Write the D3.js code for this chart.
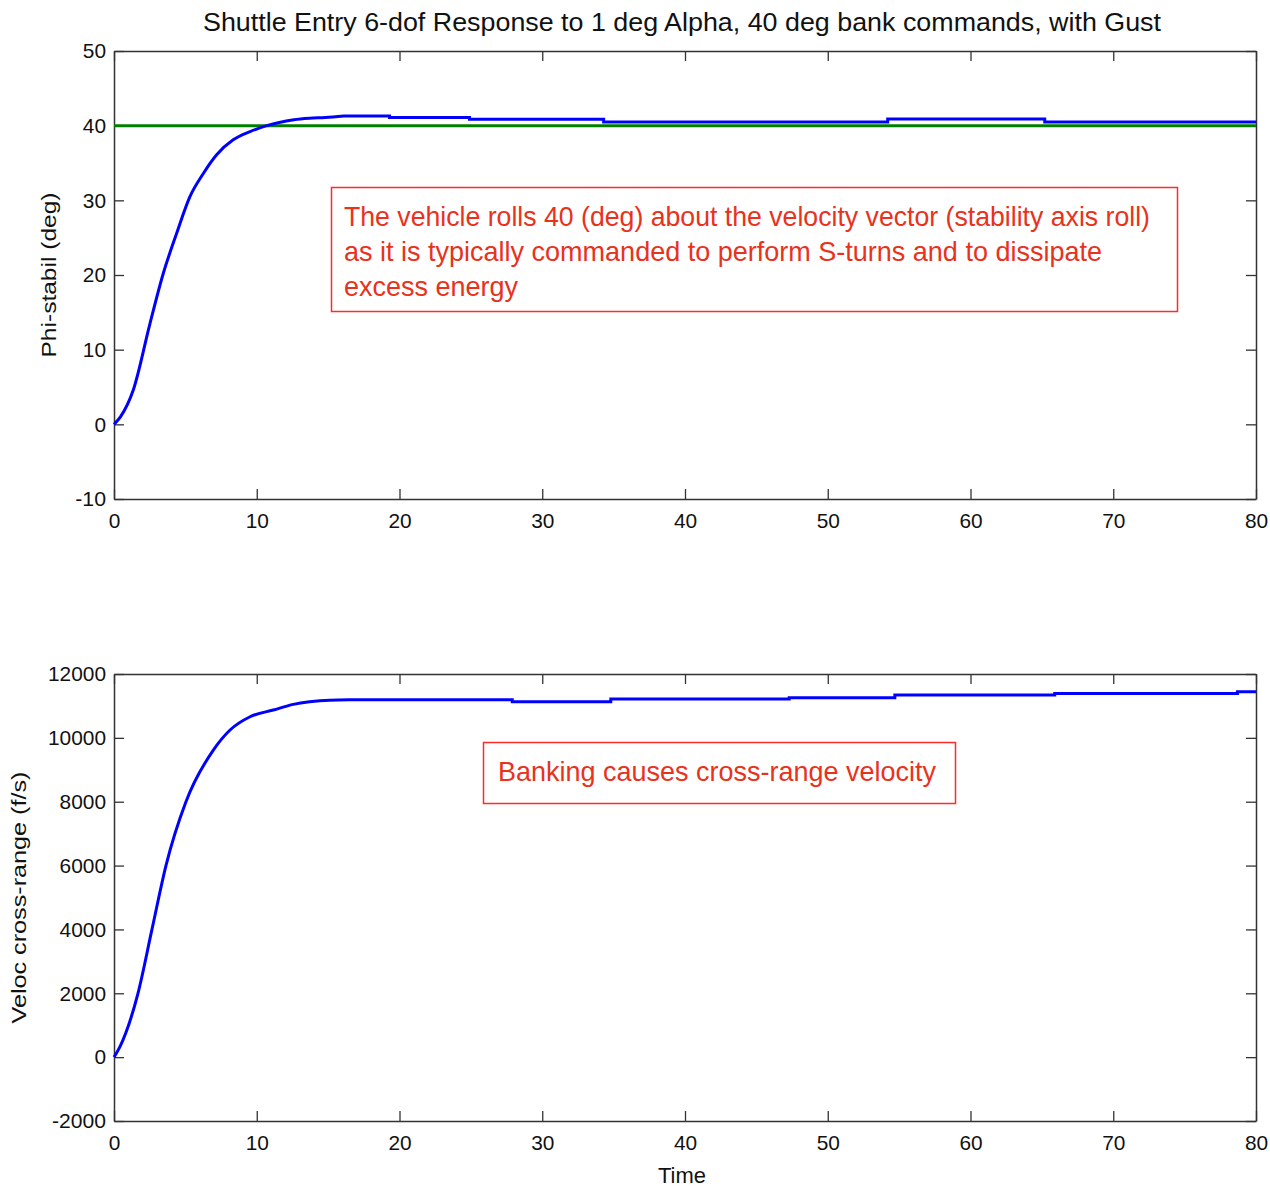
<!DOCTYPE html>
<html><head><meta charset="utf-8">
<script src="https://cdn.jsdelivr.net/npm/d3@7"></script>
<style>
body{margin:0;background:#fff;}
svg text{font-family:"Liberation Sans",Arial,sans-serif;}
</style></head>
<body><svg id="c" width="1270" height="1188"></svg>
<script>
// ---- data ----
const titleText = "Shuttle Entry 6-dof Response to 1 deg Alpha, 40 deg bank commands, with Gust";
const xTicks = [0,10,20,30,40,50,60,70,80];
const phiTicks = [-10,0,10,20,30,40,50];
const velTicks = [-2000,0,2000,4000,6000,8000,10000,12000];

// rising part (smooth) and later stepped part (gust steps)
const phiRiseTime = [0,0.45,1.35,2.52,3.45,4.39,5.32,6.26,7.19,8.35,9.53,10.7,11.5,12.6,13.7,14.8,16.1];
const phiRiseVal  = [0,1.0,4.6,13.5,20.2,25.6,30.5,33.6,36.1,38.1,39.2,40,40.4,40.8,41,41.1,41.3];
const phiStepTime = [16.1,19.3,19.3,24.9,24.9,34.3,34.3,54.2,54.2,65.2,65.2,80];
const phiStepVal  = [41.3,41.3,41.1,41.1,40.85,40.85,40.5,40.5,40.9,40.9,40.5,40.5];
const phiCmdTime = [0,80];
const phiCmdVal  = [40,40];

const velRiseTime = [0,0.42,1.68,2.66,3.64,5.04,6.96,8.13,9.53,11.16,12.56,13.7,15.1,16.5];
const velRiseVal  = [0,330,2000,4000,6000,8000,9618,10245,10661,10871,11049,11130,11180,11190];
const velStepTime = [16.5,27.9,27.9,34.8,34.8,47.3,47.3,54.7,54.7,65.9,65.9,78.7,78.7,80];
const velStepVal  = [11190,11190,11130,11130,11215,11215,11255,11255,11340,11340,11393,11393,11445,11445];

const note1 = ["The vehicle rolls 40 (deg) about the velocity vector (stability axis roll)",
               "as it is typically commanded to perform S-turns and to dissipate",
               "excess energy"];
const note2 = ["Banking causes cross-range velocity"];

// ---- drawing ----
const svg = d3.select("#c");
const L = 114, R = 1256;
const x1 = d3.scaleLinear().domain([0,80]).range([L,R]);
const yPhi = d3.scaleLinear().domain([-10,50]).range([499,51]);
const yVel = d3.scaleLinear().domain([-2000,12000]).range([1121,674]);
const axisColor = "#333";
const red = "#e8321c";
const fmt = d => String(d);

svg.append("text").attr("x",682).attr("y",31).attr("text-anchor","middle")
  .attr("font-size",26).attr("fill","#111")
  .attr("textLength",958).attr("lengthAdjust","spacingAndGlyphs").text(titleText);

function panel(y, yTicks, rise, step, extra, ylabel, ylabX, ylabLen){
  const g = svg.append("g");
  const [yb, yt] = y.range();
  const style = sel => { sel.select(".domain").attr("stroke",axisColor).attr("stroke-width",1.5);
    sel.selectAll(".tick line").attr("stroke",axisColor).attr("stroke-width",1.3);
    sel.selectAll("text").attr("font-size",21).attr("fill","#111")
      .attr("font-family","'Liberation Sans',Arial,sans-serif")
      .each(function(){ const t=this.textContent; d3.select(this).attr("textLength",t.length*11.6-(t[0]==="-"?4:0)).attr("lengthAdjust","spacingAndGlyphs"); }); };
  g.append("g").attr("transform",`translate(0,${yb})`)
    .call(d3.axisBottom(x1).tickValues(xTicks).tickFormat(fmt).tickSizeInner(-10).tickSizeOuter(0).tickPadding(14)).call(style);
  g.append("g").attr("transform",`translate(0,${yt})`)
    .call(d3.axisTop(x1).tickValues(xTicks).tickSizeInner(-10).tickSizeOuter(0).tickFormat("")).call(style);
  g.append("g").attr("transform",`translate(${L},0)`)
    .call(d3.axisLeft(y).tickValues(yTicks).tickFormat(fmt).tickSizeInner(-10).tickSizeOuter(0).tickPadding(8)).call(style);
  g.append("g").attr("transform",`translate(${R},0)`)
    .call(d3.axisRight(y).tickValues(yTicks).tickSizeInner(-10).tickSizeOuter(0).tickFormat("")).call(style);
  const lineSmooth = d3.line().x(d=>x1(d[0])).y(d=>y(d[1])).curve(d3.curveMonotoneX);
  const lineStep = d3.line().x(d=>x1(d[0])).y(d=>y(d[1]));
  if (extra) g.append("path").datum(d3.zip(extra[0],extra[1])).attr("d",lineStep)
    .attr("fill","none").attr("stroke","#008000").attr("stroke-width",3);
  const dPath = lineSmooth(d3.zip(rise[0],rise[1])) + lineStep(d3.zip(step[0],step[1])).replace(/^M[^L]*/,"");
  g.append("path").attr("d",dPath)
    .attr("fill","none").attr("stroke","#0000ff").attr("stroke-width",3).attr("stroke-linejoin","miter");
  g.append("text").attr("transform",`translate(${ylabX},${(yb+yt)/2}) rotate(-90)`)
    .attr("text-anchor","middle").attr("font-size",20).attr("fill","#111")
    .attr("textLength",ylabLen).attr("lengthAdjust","spacingAndGlyphs").text(ylabel);
  return g;
}
panel(yPhi, phiTicks, [phiRiseTime,phiRiseVal], [phiStepTime,phiStepVal], [phiCmdTime,phiCmdVal], "Phi-stabil (deg)", 56, 165);
panel(yVel, velTicks, [velRiseTime,velRiseVal], [velStepTime,velStepVal], null, "Veloc cross-range (f/s)", 26, 252);

svg.append("text").attr("x",682).attr("y",1183).attr("text-anchor","middle")
  .attr("font-size",22).attr("fill","#111").attr("textLength",48).attr("lengthAdjust","spacingAndGlyphs").text("Time");

function note(x,y,w,h,lines,tx,ty,lens){
  svg.append("rect").attr("x",x).attr("y",y).attr("width",w).attr("height",h)
    .attr("fill","#fff").attr("stroke","#ff2a2a").attr("stroke-width",1.5);
  lines.forEach((t,i)=>svg.append("text").attr("x",tx).attr("y",ty+i*35)
    .attr("font-size",28).attr("fill",red)
    .attr("textLength",lens[i]).attr("lengthAdjust","spacingAndGlyphs").text(t));
}
note(331.5,187.5,846,124,note1,344,226,[806,758,174]);
note(483.5,742.5,472,61,note2,498,781,[438]);
</script></body></html>
